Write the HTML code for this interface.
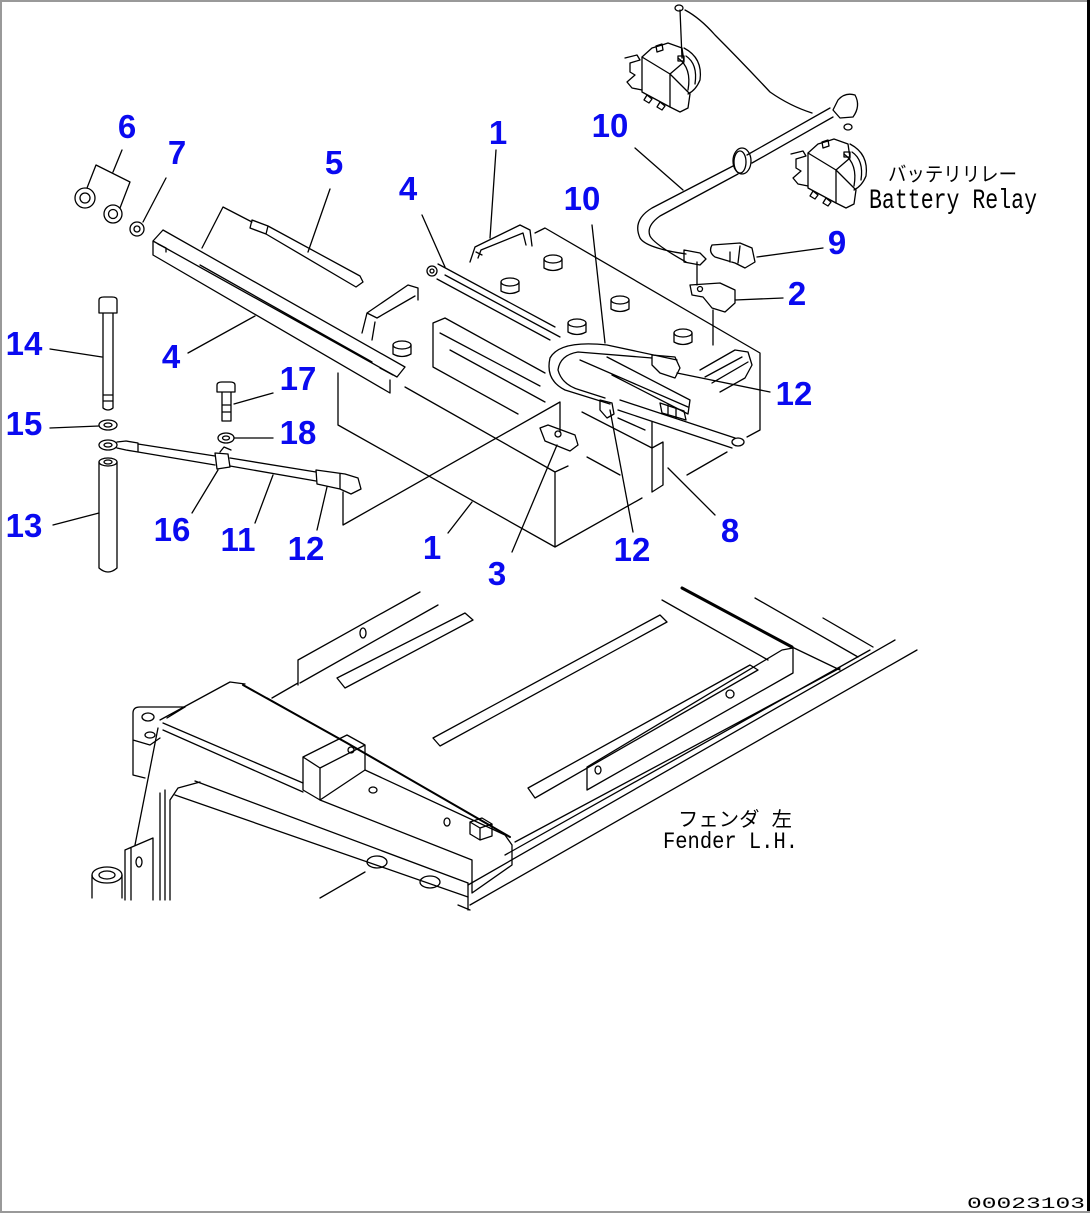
<!DOCTYPE html>
<html><head><meta charset="utf-8"><style>
html,body{margin:0;padding:0;background:#fff;}
svg{display:block;}
.lb{font-family:"Liberation Sans",Arial,sans-serif;font-weight:bold;font-size:33px;fill:#0a0af0;text-anchor:middle;}
.tx{font-family:"Liberation Mono","Noto Sans CJK JP",monospace;fill:#000;}
</style></head><body>
<svg width="1090" height="1213" viewBox="0 0 1090 1213" xmlns="http://www.w3.org/2000/svg">
<rect x="0" y="0" width="1090" height="1213" fill="#fff"/>
<rect x="0" y="0" width="1090" height="2" fill="#999"/>
<rect x="0" y="0" width="2" height="1213" fill="#999"/>
<rect x="1087" y="0" width="3" height="1213" fill="#000"/>
<rect x="0" y="1211" width="1090" height="2" fill="#999"/>

<g fill="none" stroke="#000" stroke-width="1.3" stroke-linejoin="round" stroke-linecap="round">
<!-- nuts 6 / washer 7 -->
<circle cx="85" cy="198" r="10"/><circle cx="85" cy="198" r="5"/>
<circle cx="113" cy="214" r="9"/><circle cx="113" cy="214" r="4.5"/>
<circle cx="137" cy="229" r="7"/><circle cx="137" cy="229" r="3"/>
<path d="M122,150 L113,172 M96,165 L130,182 M96,165 L87,188 M130,182 L120,208 M166,178 L143,222"/>

<!-- rail 4 left -->
<path d="M163,230 L405,367 L397,377 L153,241 L163,230 M153,241 L153,255 L390,393 L390,380 M200,265 L372,362 M380,368 L393,375"/>
<path d="M158,244 L166,248 L166,252"/>
<!-- part 5 rod -->
<path d="M252,220 L268,226 L266,234 L250,228 Z M268,226 L360,276 L363,282 L356,287 L266,234"/>
<path d="M202,248 L223,207 L252,222 M330,189 L308,252 M188,353 L255,316"/>

<!-- bolt 14 -->
<path d="M99,300 Q99,297 104,297 L112,297 Q117,297 117,300 L117,313 L99,313 Z M103,313 L103,408 Q108,412 113,408 L113,313 M103,395 L113,395 M103,401 L113,401"/>
<path d="M50,349 L102,357"/>
<ellipse cx="108" cy="425" rx="9" ry="5"/><ellipse cx="108" cy="425" rx="4" ry="2"/>
<path d="M50,428 L99,426"/>
<ellipse cx="108" cy="445" rx="9" ry="5"/><ellipse cx="108" cy="445" rx="4" ry="2"/>
<!-- tube 13 -->
<path d="M99,462 L99,568 Q108,576 117,568 L117,462"/>
<ellipse cx="108" cy="462" rx="9" ry="4"/><ellipse cx="108" cy="462" rx="4" ry="2"/>
<path d="M53,525 L99,513"/>
<!-- cable 11 -->
<path d="M117,442 L126,441 L138,443 L138,452 L126,450 L117,448"/>
<path d="M138,444 L215,456 M138,452 L215,465"/>
<path d="M215,453 L228,454 L230,467 L217,469 Z M220,452 L224,447 L231,450"/>
<path d="M230,458 L316,472 M230,466 L316,481"/>
<path d="M316,470 L345,474 L358,478 L361,489 L351,494 L340,489 L317,484 Z M340,474 L340,489"/>
<path d="M192,513 L218,470 M255,523 L273,475 M317,530 L327,487"/>
<!-- bolt 17 / washer 18 -->
<path d="M217,385 Q217,382 222,382 L230,382 Q235,382 235,385 L235,392 L217,392 Z M222,392 L222,421 L231,421 L231,392 M222,405 L231,405 M222,412 L231,412"/>
<path d="M273,393 L234,404"/>
<ellipse cx="226" cy="438" rx="8" ry="5"/><ellipse cx="226" cy="438" rx="3.5" ry="2"/>
<path d="M234,438 L273,438"/>

<!-- left battery -->
<path d="M362,333 L367,313 L408,285 L418,288 L418,300 M367,313 L377,318 L415,296 M372,340 L375,322"/>
<path d="M338,373 L338,425 L555,547 L555,472 M405,387 L555,472 L568,466 M555,547 L642,498 M687,475 L727,452 M587,457 L620,475"/>
<path d="M433,367 L433,323 L445,318 L545,373 M433,367 L518,414 M440,333 L540,386 M450,350 L545,402"/>
<!-- right battery -->
<path d="M535,233 L545,228 L760,353 L760,430 L747,437"/>
<path d="M470,262 L475,247 L520,225 L530,230 L532,246 M478,258 L481,250 L523,233 L526,245 M476,252 L482,255"/>
<path d="M700,370 L735,350 M705,377 L742,357 M712,383 L748,362 M735,350 L748,352 L752,365 L745,378 L720,392"/>
<!-- terminals -->
<g>
<path d="M544,259 L544,268 Q553,273 562,268 L562,259"/><ellipse cx="553" cy="259" rx="9" ry="4"/>
<path d="M501,282 L501,291 Q510,296 519,291 L519,282"/><ellipse cx="510" cy="282" rx="9" ry="4"/>
<path d="M611,300 L611,309 Q620,314 629,309 L629,300"/><ellipse cx="620" cy="300" rx="9" ry="4"/>
<path d="M568,323 L568,332 Q577,337 586,332 L586,323"/><ellipse cx="577" cy="323" rx="9" ry="4"/>
<path d="M674,333 L674,342 Q683,347 692,342 L692,333"/><ellipse cx="683" cy="333" rx="9" ry="4"/>
<path d="M393,345 L393,354 Q402,359 411,354 L411,345"/><ellipse cx="402" cy="345" rx="9" ry="4"/>
</g>
<!-- right rail 4 -->
<circle cx="432" cy="271" r="5"/><circle cx="432" cy="271" r="2"/>
<path d="M438,264 L555,327 M437,279 L550,340 M445,275 L560,337 M607,357 L690,400 L688,414 L612,375 M580,360 L688,407"/>
<path d="M422,215 L445,267 M496,150 L490,238"/>
<!-- cable loop 10 -->
<path d="M677,360 L607,345 Q560,340 550,358 Q545,380 565,390 L610,404"/>
<path d="M652,358 L578,352 Q560,355 558,370 Q562,385 580,390 L605,398"/>
<path d="M652,355 L675,357 L680,368 L675,378 L660,373 L652,365 Z"/>
<path d="M600,400 L612,403 L614,414 L607,418 L600,410 Z"/>
<path d="M620,400 L735,438 M618,410 L732,448"/>
<ellipse cx="738" cy="442" rx="6" ry="4"/>
<path d="M660,403 L684,411 L686,420 L662,413 Z M668,405 L668,415 M676,408 L676,418"/>
<path d="M592,225 L605,343 M770,392 L677,373"/>
<!-- part 8 -->
<path d="M582,412 L652,448 L663,442 L663,485 L652,492 L652,448 M652,422 L652,448 M618,418 L645,430"/>
<path d="M715,515 L668,468 M633,532 L610,410 M512,552 L557,445 M448,533 L472,502"/>
<!-- part 3 -->
<path d="M540,428 L548,425 L575,435 L578,445 L570,451 L545,441 Z"/><circle cx="558" cy="434" r="3"/>
<path d="M343,492 L343,525 L560,402 L560,432"/>

<!-- relay cable -->
<path d="M830,108 L747,155 M833,117 L752,163"/>
<ellipse cx="740" cy="162" rx="6" ry="11"/><ellipse cx="742" cy="161" rx="9" ry="13"/>
<path d="M733,166 L652,208 Q632,220 640,238 Q646,248 686,254 M738,174 L660,216 Q646,226 650,236 Q654,244 686,262"/>
<path d="M684,250 L700,253 L706,259 L700,265 L684,262 Z"/>
<path d="M838,100 Q845,92 855,95 Q861,106 853,117 L840,118 L833,110 Z"/>
<path d="M812,113 Q790,106 770,92 Q740,60 715,35 Q700,18 685,10"/>
<ellipse cx="679" cy="8" rx="4" ry="3"/><ellipse cx="848" cy="127" rx="4" ry="3"/>
<path d="M680,10 L682,58"/>
<!-- part 9 -->
<path d="M712,245 L740,243 L752,248 L755,262 L745,268 L735,263 L715,257 Q708,252 712,245 Z M730,252 L730,262 M740,246 L738,263"/>
<path d="M757,257 L823,248"/>
<!-- part 2 -->
<path d="M690,285 L720,283 L735,290 L735,303 L725,312 L712,308 L703,297 L692,295 Z"/><circle cx="700" cy="289" r="2.5"/>
<path d="M735,300 L783,298 M697,262 L697,285 M713,310 L713,345"/>
<path d="M635,148 L683,190"/>

<!-- relay 1 -->
<g id="rl">
<path d="M625,58 L637,55 L640,60 L630,63 L630,72 L635,75 L627,82 L632,88 L642,90"/>
<path d="M642,57 L670,74 L670,107 L642,92 Z"/>
<path d="M642,57 L652,48 L662,45 L668,43 L682,48 L684,62 L670,74"/>
<path d="M684,48 Q703,58 700,80 Q696,90 688,94 M686,56 Q698,64 695,84 M678,58 Q692,68 688,90"/>
<path d="M670,74 L690,94 L688,108 L680,112 L670,107"/>
<path d="M647,95 L652,99 L649,103 L644,100 Z M660,102 L665,106 L662,110 L657,107 Z"/>
<path d="M656,46 L662,44 L663,50 L657,52 Z"/>
<rect x="678" y="56" width="6" height="5"/>
</g>
<g transform="translate(166,96)">
<path d="M625,58 L637,55 L640,60 L630,63 L630,72 L635,75 L627,82 L632,88 L642,90"/>
<path d="M642,57 L670,74 L670,107 L642,92 Z"/>
<path d="M642,57 L652,48 L662,45 L668,43 L682,48 L684,62 L670,74"/>
<path d="M684,48 Q703,58 700,80 Q696,90 688,94 M686,56 Q698,64 695,84 M678,58 Q692,68 688,90"/>
<path d="M670,74 L690,94 L688,108 L680,112 L670,107"/>
<path d="M647,95 L652,99 L649,103 L644,100 Z M660,102 L665,106 L662,110 L657,107 Z"/>
<path d="M656,46 L662,44 L663,50 L657,52 Z"/>
<rect x="678" y="56" width="6" height="5"/>
</g>

<!-- lower fender -->
<path d="M420,592 L298,660 L298,685 M438,605 L300,683 M298,683 L272,698"/>
<path d="M337,678 L465,613 L473,620 L345,688 Z"/>
<ellipse cx="363" cy="633" rx="3" ry="5"/>
<path d="M243,685 L347,743 L510,837" stroke-width="2"/>
<path d="M267,698 L347,743"/>
<path d="M160,720 L230,682 L245,684 M167,718 L185,707 M163,723 L303,783 M163,730 L303,792"/>
<path d="M303,757 L347,735 L365,745 L365,770 L320,800 L303,790 Z M303,757 L320,768 L365,745 M320,768 L320,800"/>
<circle cx="351" cy="750" r="3"/>
<path d="M320,800 L472,860 M365,770 L505,835 M472,860 L472,893 M505,835 L512,845 L512,865 L472,893"/>
<path d="M470,822 L482,818 L492,824 L492,836 L480,840 L470,834 Z M470,822 L480,828 L492,824 M480,828 L480,840"/>
<ellipse cx="373" cy="790" rx="4" ry="3"/><ellipse cx="447" cy="822" rx="3" ry="4"/>
<path d="M160,793 L160,900 M165,790 L165,900 M170,800 L170,900 M170,800 L178,788 L200,782 M195,781 L468,883 M175,795 L468,897"/>
<ellipse cx="377" cy="862" rx="10" ry="6"/><ellipse cx="430" cy="882" rx="10" ry="6"/>
<path d="M468,883 L468,910 M458,905 L470,910 M320,898 L365,872"/>
<path d="M470,905 L917,650 M468,885 L895,640 M505,855 L870,650 M515,842 L840,668"/>
<path d="M528,788 L750,665 L758,670 L535,798 Z"/>
<path d="M587,767 L782,650 L793,648 L793,673 L587,790 Z"/>
<ellipse cx="598" cy="770" rx="3" ry="4"/><ellipse cx="730" cy="694" rx="4" ry="4"/>
<path d="M433,738 L660,615 L667,622 L440,746 Z"/>
<path d="M662,600 L768,660 M755,598 L858,657 M823,618 L873,647 M792,647 L840,670"/>
<path d="M682,588 L792,647" stroke-width="3"/>
<path d="M92,875 L92,898 M122,875 L122,898"/>
<ellipse cx="107" cy="875" rx="15" ry="8"/><ellipse cx="107" cy="875" rx="8" ry="4"/>
<path d="M125,850 L125,900 M131,848 L131,900 M153,838 L153,900 M125,850 L153,838"/>
<ellipse cx="139" cy="862" rx="3" ry="5"/>
<path d="M135,845 L158,728"/>
<path d="M133,713 Q133,707 140,707 L185,707 M133,713 L133,775 L145,778 M133,740 L150,745 L160,738"/>
<ellipse cx="148" cy="717" rx="6" ry="4"/><ellipse cx="150" cy="735" rx="5" ry="3"/>
</g>

<!-- labels -->
<text class="lb" x="127" y="138">6</text>
<text class="lb" x="177" y="164">7</text>
<text class="lb" x="334" y="174">5</text>
<text class="lb" x="408" y="200">4</text>
<text class="lb" x="498" y="144">1</text>
<text class="lb" x="610" y="137">10</text>
<text class="lb" x="582" y="210">10</text>
<text class="lb" x="837" y="254">9</text>
<text class="lb" x="797" y="305">2</text>
<text class="lb" x="24" y="355">14</text>
<text class="lb" x="171" y="368">4</text>
<text class="lb" x="298" y="390">17</text>
<text class="lb" x="794" y="405">12</text>
<text class="lb" x="24" y="435">15</text>
<text class="lb" x="298" y="444">18</text>
<text class="lb" x="24" y="537">13</text>
<text class="lb" x="172" y="541">16</text>
<text class="lb" x="238" y="551">11</text>
<text class="lb" x="306" y="560">12</text>
<text class="lb" x="432" y="559">1</text>
<text class="lb" x="730" y="542">8</text>
<text class="lb" x="632" y="561">12</text>
<text class="lb" x="497" y="585">3</text>

<text class="tx" x="888" y="181" font-size="20" textLength="129" lengthAdjust="spacingAndGlyphs">バッテリリレー</text>
<text class="tx" x="869" y="208" font-size="28" textLength="168" lengthAdjust="spacingAndGlyphs">Battery Relay</text>
<text class="tx" x="678" y="826" font-size="20" textLength="114" lengthAdjust="spacingAndGlyphs">フェンダ 左</text>
<text class="tx" x="663" y="848" font-size="23" textLength="135" lengthAdjust="spacingAndGlyphs">Fender L.H.</text>
<text class="tx" x="967" y="1208" font-size="16" textLength="118" lengthAdjust="spacingAndGlyphs">00023103</text>
</svg>
</body></html>
